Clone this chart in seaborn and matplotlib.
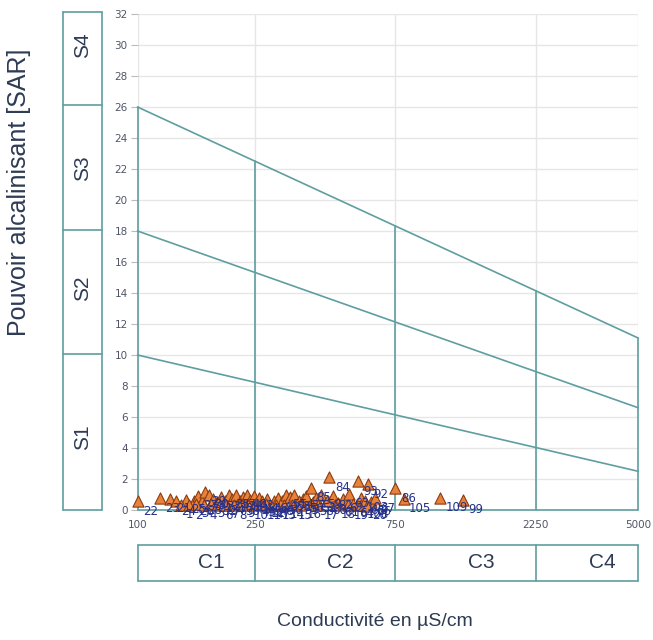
import numpy as np
import pandas as pd
import matplotlib
matplotlib.use("Agg")
import matplotlib.pyplot as plt
from matplotlib.ticker import NullLocator, FixedLocator
import seaborn as sns

# ---------------- data ----------------
ec = [100, 119, 129, 135, 146, 155, 160, 165, 170, 175, 180, 186, 192, 198, 205, 210,
      216, 222, 228, 235, 241, 248, 252,
      258, 265, 276, 282, 290, 300, 310, 320, 330, 340, 352, 365, 372, 387, 395, 405,
      420, 440, 448, 460, 480, 500, 521, 540, 559, 573, 575, 590, 604, 620, 640,
      751, 800, 1064, 1270,
      140, 150, 158, 168, 178, 190, 200, 212, 225, 238, 262, 272, 295, 315, 335, 360,
      410, 470, 520, 600]
sar = [0.55, 0.75, 0.70, 0.55, 0.65, 0.55, 0.90, 0.60, 1.15, 0.95, 0.70, 0.50, 0.85, 0.60,
       0.95, 0.70, 1.00, 0.55, 0.85, 0.95, 0.65, 0.90, 0.45,
       0.75, 0.55, 0.70, 0.35, 0.55, 0.80, 0.60, 0.95, 0.85, 1.00, 0.60, 0.70, 0.90, 1.45,
       0.50, 0.75, 1.00, 0.60, 2.10, 0.90, 0.45, 0.70, 1.05, 0.40, 1.85, 0.80, 0.35, 0.60,
       1.65, 0.50, 0.75,
       1.40, 0.70, 0.80, 0.65,
       0.35, 0.30, 0.40, 0.30, 0.40, 0.30, 0.35, 0.30, 0.40, 0.30, 0.30, 0.40, 0.30, 0.35,
       0.30, 0.35, 0.30, 0.35, 0.30, 0.25]
ids = [22, 23, 21, 24, 25, 26, 27, 28, 29, 30, 31, 32, 33, 34, 35, 36, 37, 38, 39, 40, 41,
       42, 43,
       44, 45, 46, 47, 48, 49, 50, 51, 53, 54, 55, 56, 57, 85, 58, 52, 59, 60, 84, 82, 61,
       62, 63, 64, 93, 103, 108, 65, 92, 66, 67,
       86, 105, 109, 99,
       1, 2, 3, 4, 5, 6, 7, 8, 9, 10, 11, 12, 13, 14, 15, 16, 17, 18, 19, 20]

# class limits (USSL / Richards diagram)
ec_limits = [100, 250, 750, 2250, 5000]
c_classes = ["C1", "C2", "C3", "C4"]
sar_at_100 = [10, 18, 26]
sar_at_5000 = [2.5, 6.6, 11.1]
s_limits = [0, 10, 18, 26, 32]
s_classes = ["S1", "S2", "S3", "S4"]
y_ticks = list(range(0, 33, 2))

df = pd.DataFrame({"ec": ec, "sar": sar, "id": ids})

# ---------------- style ----------------
sns.set_style("white")
plt.rcParams["font.family"] = ["DejaVu Sans"]

TEAL = "#5f9ea0"
GRID = "#e6e6e6"
TXT = "#2e3b55"
TICK = "#4f5566"
LBL = "#24308c"

W, H = 653, 640
fig = plt.figure(figsize=(W / 100, H / 100), dpi=100)

# main axes
L, R, T, B = 137.5, 638, 14, 510
ax = fig.add_axes([L / W, (H - B) / H, (R - L) / W, (B - T) / H])
ax.set_xscale("log")
ax.set_xlim(100, 5000)
ax.set_ylim(0, 32)
ax.xaxis.set_major_locator(FixedLocator(ec_limits))
ax.xaxis.set_minor_locator(NullLocator())
ax.set_xticklabels([str(v) for v in ec_limits])
ax.set_yticks(y_ticks)
ax.grid(True, color=GRID, lw=1, zorder=0)
for s in ax.spines.values():
    s.set_visible(False)
ax.tick_params(axis="x", length=0, pad=7, labelsize=7.5, colors=TICK)
ax.tick_params(axis="y", length=5, width=0.8, color="#bbbbbb", pad=2, labelsize=7.5,
               labelcolor=TICK, left=True)

# boundary lines
lx = np.log10(ec_limits[0])
rx = np.log10(ec_limits[-1])
for a, b in zip(sar_at_100, sar_at_5000):
    ax.plot([ec_limits[0], ec_limits[-1]], [a, b], color=TEAL, lw=1.2, zorder=2,
            clip_on=False)
top_a, top_b = sar_at_100[-1], sar_at_5000[-1]
for e in ec_limits:
    t = (np.log10(e) - lx) / (rx - lx)
    ytop = top_a + (top_b - top_a) * t
    ax.plot([e, e], [0, ytop], color=TEAL, lw=1.2, zorder=2, clip_on=False)
ax.plot([ec_limits[0], ec_limits[-1]], [0, 0], color=TEAL, lw=1.2, zorder=2, clip_on=False)

# points
sns.scatterplot(data=df, x="ec", y="sar", marker="^", s=65, color="#e8823a",
                edgecolor="#8a3b12", linewidth=0.8, ax=ax, zorder=3, clip_on=False,
                legend=False)
for e, s_, i in zip(df["ec"], df["sar"], df["id"]):
    ax.annotate(str(i), xy=(e, s_), xytext=(4, -7), textcoords="offset points",
                ha="left", va="center", fontsize=8.5, color=LBL, zorder=4,
                annotation_clip=False)
ax.set_xlabel("")
ax.set_ylabel("")

# S boxes
SL, SR, ST = 63, 102, 12
axs = fig.add_axes([SL / W, (H - B) / H, (SR - SL) / W, (B - ST) / H])
axs.set_xlim(0, 1)
axs.set_ylim(0, 32)
axs.axis("off")
for v in s_limits:
    axs.plot([0, 1], [v, v], color=TEAL, lw=1.2, clip_on=False)
axs.plot([0, 0], [0, 32], color=TEAL, lw=1.2, clip_on=False)
axs.plot([1, 1], [0, 32], color=TEAL, lw=1.2, clip_on=False)
s_label_y = [437, 288, 168, 45]
for lab, py in zip(s_classes, s_label_y):
    fig.text((SL + SR) / 2 / W, 1 - py / H, lab, rotation=90, ha="center", va="center",
             fontsize=15, color=TXT, family=["Liberation Sans", "DejaVu Sans"])

# C boxes
CT, CB = 545, 581
axc = fig.add_axes([L / W, (H - CB) / H, (R - L) / W, (CB - CT) / H])
axc.set_xscale("log")
axc.set_xlim(100, 5000)
axc.set_ylim(0, 1)
axc.axis("off")
axc.plot([100, 5000], [0, 0], color=TEAL, lw=1.2, clip_on=False)
axc.plot([100, 5000], [1, 1], color=TEAL, lw=1.2, clip_on=False)
for e in ec_limits:
    axc.plot([e, e], [0, 1], color=TEAL, lw=1.2, clip_on=False)
for k, lab in enumerate(c_classes):
    cx = np.sqrt(ec_limits[k] * ec_limits[k + 1])
    axc.annotate(lab, xy=(cx, 0.5), xytext=(11, 0), textcoords="offset points",
                 ha="center", va="center", fontsize=15, color=TXT,
                 family=["Liberation Sans", "DejaVu Sans"])

# axis titles
fig.text(19 / W, 1 - 192 / H, "Pouvoir alcalinisant [SAR]", rotation=90, ha="center",
         va="center", fontsize=18, color=TXT, family=["Liberation Sans", "DejaVu Sans"])
fig.text(375 / W, 1 - 622 / H, "Conductivité en µS/cm", ha="center", va="center",
         fontsize=14, color=TXT, family=["Liberation Sans", "DejaVu Sans"])

fig.savefig("out.png", dpi=100, facecolor="white")
